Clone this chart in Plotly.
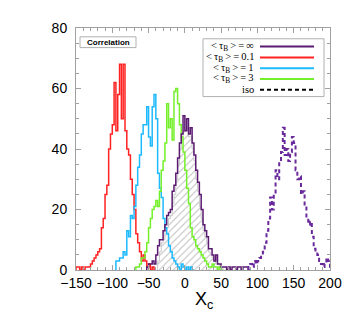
import plotly.graph_objects as go

BIN = 2.5

red_start = -150.0
red_counts = [1,1,0,1,0,1,1,1,2,3, 4,5,6,7,14,17,25,28,40,45, 48,62,46,58,68,50,68,46,40,38,
              30,25,20,12,9,6,3,5,3,1, 2,0,1,0]

blue_start = -95.0
blue_counts = [3,3,4,4,6,5,13,11,18,17, 21,28,34,38,45,48,48,54,44,41, 54,58,50,32,27,24,17,14,12,8,
               6,4,3,2,1,0,2,1,0,1, 0,1,0]

green_start = -67.5
green_counts = [1,1,2,4,4,6,9,14,17,20, 21,23,21,26,33,36,42,55,47,50, 43,59,60,55,48,44,39,33,27,22,
                14,11,10,8,7,6,5,4,3,2, 1,1,2,1,1,0,1,0]

purple_start = -52.5
purple_counts = [1,2,2,3,2,5,8,10,10,13, 15,18,19,20,26,28,32,37,42,45, 51,46,50,45,47,42,38,33,29,25,
                 20,15,13,11,7,7,5,3,5,2, 2,1,1,1,0,1,0,1,1,0, 1,1,0,1,1,1,0]

hatch_start = -37.5
hatch_counts = [3,6,9,10,13,14,17,18,22,25, 30,35,40,44,46,46,47,44,44,40, 36,30,26,21,17,13,11,9,6,5,
                4,3,2,2,1,1,0]

iso_start = 87.5
iso_counts = [1,2,1,3,2,3,4,5,6,9, 13,17,24,20,25,33,30,36,39,47, 38,40,36,39,44,42,33,30,31,25,
              26,21,17,15,16,11,7,6,5,3, 2,1,2,4,3]

T = "\u2009"
legend_labels = [f"&lt;{T}τ<sub>B</sub>{T}&gt;{T}={T}∞",
                 f"&lt;{T}τ<sub>B</sub>{T}&gt;{T}={T}0.1",
                 f"&lt;{T}τ<sub>B</sub>{T}&gt;{T}={T}1",
                 f"&lt;{T}τ<sub>B</sub>{T}&gt;{T}={T}3",
                 "iso"]

PURPLE = "#5b1a72"
RED = "#ff2222"
BLUE = "#1ebaff"
GREEN = "#74f02a"
ISO = "#6a2a9c"


def steps(start, counts):
    edges = [start + i * BIN for i in range(len(counts) + 1)]
    xs = [edges[0]] + edges[:-1] + [edges[-1]]
    ys = [0] + list(counts) + [0]
    return xs, ys


fig = go.Figure()

hx, hy = steps(hatch_start, hatch_counts)
fig.add_trace(go.Scatter(x=hx, y=hy, mode="lines", line=dict(shape="hv", color="#c8c8c8", width=1),
                         fill="tozeroy", fillcolor="rgba(0,0,0,0)",
                         fillpattern=dict(shape="/", fgcolor="#7a7a7a", bgcolor="rgba(255,255,255,0)",
                                          size=5, solidity=0.2),
                         showlegend=False, hoverinfo="skip"))

for start, counts, color in [(red_start, red_counts, RED), (blue_start, blue_counts, BLUE),
                             (green_start, green_counts, GREEN), (purple_start, purple_counts, PURPLE)]:
    x, y = steps(start, counts)
    fig.add_trace(go.Scatter(x=x, y=y, mode="lines", line=dict(shape="hv", color=color, width=1.5),
                             showlegend=False))

ix, iy = steps(iso_start, iso_counts)
fig.add_trace(go.Scatter(x=ix, y=iy, mode="lines",
                         line=dict(shape="hv", color=ISO, width=2, dash="4px,3px"),
                         showlegend=False))

axis_common = dict(showgrid=False, zeroline=False, showline=True, linecolor="#a0a0a0", linewidth=1,
                   mirror="ticks", ticks="inside", tickcolor="#a0a0a0", ticklen=5, tickwidth=1,
                   tickfont=dict(family="Liberation Sans", size=14, color="black"))

fig.update_xaxes(range=[-150, 200], dtick=50, tick0=0,
                 minor=dict(dtick=10, ticks="inside", ticklen=3, tickcolor="#a0a0a0"),
                 **axis_common)
fig.update_yaxes(range=[0, 80], dtick=20, tick0=0, ticklabelstandoff=5,
                 minor=dict(dtick=5, ticks="inside", ticklen=3, tickcolor="#a0a0a0"),
                 **axis_common)


# page coordinates (the page body adds an 8px offset) -> paper coordinates of the plot area
def px2paper_x(px):
    return (px - 76) / 254.0


def px2paper_y(py):
    return (270 - py) / 247.0


shapes = [dict(type="rect", xref="paper", yref="paper", x0=px2paper_x(203), x1=px2paper_x(324),
               y0=px2paper_y(93), y1=px2paper_y(34), line=dict(color="#b0b0b0", width=1),
               fillcolor="white", layer="above"),
          dict(type="rect", xref="paper", yref="paper", x0=px2paper_x(80), x1=px2paper_x(136),
               y0=px2paper_y(43), y1=px2paper_y(32), line=dict(color="#b0b0b0", width=1),
               fillcolor="white", layer="above")]
annotations = [dict(xref="paper", yref="paper", x=px2paper_x(108), y=px2paper_y(38), text="<b>Correlation</b>",
                    showarrow=False, font=dict(family="Liberation Sans", size=8, color="black"),
                    xanchor="center", yanchor="middle"),
               dict(xref="paper", yref="paper", x=px2paper_x(204), y=px2paper_y(301), text="X<sub>c</sub>",
                    showarrow=False, font=dict(family="Liberation Sans", size=18, color="black"),
                    xanchor="center", yanchor="middle")]

row_y = [42, 53, 64, 75, 86]
line_colors = [PURPLE, RED, BLUE, GREEN, "black"]
for lab, ry, col in zip(legend_labels, row_y, line_colors):
    annotations.append(dict(xref="paper", yref="paper", x=px2paper_x(255), y=px2paper_y(ry), text=lab,
                            showarrow=False, xanchor="right", yanchor="middle", borderpad=0,
                            font=dict(family="Liberation Serif", size=10.5, color="black")))
    sh = dict(type="line", xref="paper", yref="paper", x0=px2paper_x(260), x1=px2paper_x(314),
              y0=px2paper_y(ry), y1=px2paper_y(ry), line=dict(color=col, width=2), layer="above")
    if lab == "iso":
        sh["line"]["dash"] = "4px,3px"
    shapes.append(sh)

fig.update_layout(width=346, height=311, margin=dict(l=68, r=24, t=15, b=49),
                  paper_bgcolor="white", plot_bgcolor="white", showlegend=False,
                  shapes=shapes, annotations=annotations)

fig.write_html("out.html")
